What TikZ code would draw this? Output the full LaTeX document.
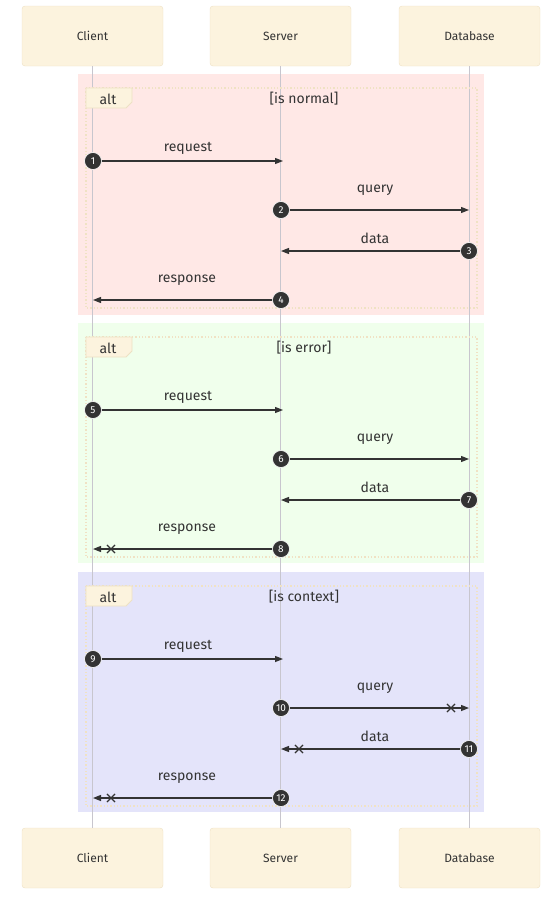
\documentclass[tikz,border=0pt]{standalone}
\usepackage{fontspec}
\setmainfont{Fira Sans}
\usepackage{xcolor}
\usetikzlibrary{shapes, shapes.misc, arrows.meta, positioning}

\definecolor{actfill}{RGB}{252,243,222}
\definecolor{actdraw}{RGB}{237,225,196}
\definecolor{lifegray}{RGB}{200,198,206}
\definecolor{inkdark}{RGB}{51,51,51}
\definecolor{pinkbg}{RGB}{255,232,230}
\definecolor{greenbg}{RGB}{240,255,236}
\definecolor{bluebg}{RGB}{228,228,250}
\definecolor{framedot}{RGB}{240,226,196}

\tikzset{
    actor/.style={draw=actdraw, fill=actfill, rounded corners=3pt, minimum width=141pt, minimum height=60pt, text=inkdark, font=\fontsize{12}{14}\selectfont},
    lifeline/.style={draw=lifegray, line width=1.6pt},
    altframe/.style={draw=framedot, line width=1.3pt, dotted},
    alttag/.style={draw=actdraw, fill=actfill, line width=0.8pt},
    cond/.style={text=inkdark, font=\fontsize{14}{16}\selectfont},
    msg/.style={draw=inkdark, line width=1.3pt, -{Triangle[length=8pt, width=6pt]}},
    lbl/.style={text=inkdark, font=\fontsize{14}{16}\selectfont, inner sep=0pt},
    num/.style={circle, fill=inkdark, draw=white, line width=0.6pt, minimum size=17pt, inner sep=0pt, text=white, font=\fontsize{10}{10}\selectfont},
    xmark/.style={cross out, draw=inkdark, line width=1.1pt, minimum size=7pt, inner sep=0pt},
}

\begin{document}
\begin{tikzpicture}[x=1pt, y=-1pt]
    \useasboundingbox (0,0) rectangle (559,905);

    % background blocks
    \fill[pinkbg] (78,74) rectangle (484,315);
    \fill[greenbg] (78,323) rectangle (484,563);
    \fill[bluebg] (78,572) rectangle (484,812);

    % actors
    \node[actor] (client) at (92.5,36) {Client};
    \node[actor] (server) at (280.5,36) {Server};
    \node[actor] (db) at (469.5,36) {Database};
    \node[actor] (clientb) at (92.5,858) {Client};
    \node[actor] (serverb) at (280.5,858) {Server};
    \node[actor] (dbb) at (469.5,858) {Database};

    % lifelines
    \draw[lifeline] (client) -- (clientb);
    \draw[lifeline] (server) -- (serverb);
    \draw[lifeline] (db) -- (dbb);

    % alt frames
    \draw[altframe] (86,88) rectangle (477,308);
    \draw[alttag] (86,88) -- (132,88) -- (132,102) -- (126,108) -- (86,108) -- cycle;
    \node[lbl] (alt1) at (108,99) {alt};
    \node[cond] (cond1) at (304,99) {[is normal]};

    \draw[altframe] (86,337) rectangle (477,557);
    \draw[alttag] (86,337) -- (132,337) -- (132,351) -- (126,357) -- (86,357) -- cycle;
    \node[lbl] (alt2) at (108,348) {alt};
    \node[cond] (cond2) at (304,348) {[is error]};

    \draw[altframe] (86,586) rectangle (477,806);
    \draw[alttag] (86,586) -- (132,586) -- (132,600) -- (126,606) -- (86,606) -- cycle;
    \node[lbl] (alt3) at (108,597) {alt};
    \node[cond] (cond3) at (304,597) {[is context]};

    % is normal
    \coordinate (s1) at (283,161);
    \coordinate (d2) at (469,210);
    \coordinate (s3) at (281,251);
    \coordinate (c4) at (93,300);
    \draw[msg] (93,161) coordinate (c1) -- node[lbl, midway, yshift=13pt] {request} (s1);
    \draw[msg] (281,210) coordinate (s2) -- node[lbl, midway, yshift=20pt] {query} (d2);
    \draw[msg] (469,251) coordinate (d3) -- node[lbl, midway, yshift=13pt] {data} (s3);
    \draw[msg] (281,300) coordinate (s4) -- node[lbl, midway, yshift=20pt] {response} (c4);
    \node[num] (n1) at (c1) {1};
    \node[num] (n2) at (s2) {2};
    \node[num] (n3) at (d3) {3};
    \node[num] (n4) at (s4) {4};

    % is error
    \coordinate (s5) at (283,410);
    \coordinate (d6) at (469,459);
    \coordinate (s7) at (281,500);
    \coordinate (c8) at (93,549);
    \draw[msg] (93,410) coordinate (c5) -- node[lbl, midway, yshift=13pt] {request} (s5);
    \draw[msg] (281,459) coordinate (s6) -- node[lbl, midway, yshift=20pt] {query} (d6);
    \draw[msg] (469,500) coordinate (d7) -- node[lbl, midway, yshift=13pt] {data} (s7);
    \draw[msg] (281,549) coordinate (s8) -- node[lbl, midway, yshift=20pt] {response} (c8);
    \node[xmark] (x8) at (111,549) {};
    \node[num] (n5) at (c5) {5};
    \node[num] (n6) at (s6) {6};
    \node[num] (n7) at (d7) {7};
    \node[num] (n8) at (s8) {8};

    % is context
    \coordinate (s9) at (283,659);
    \coordinate (d10) at (469,708);
    \coordinate (s11) at (281,749);
    \coordinate (c12) at (93,798);
    \draw[msg] (93,659) coordinate (c9) -- node[lbl, midway, yshift=13pt] {request} (s9);
    \draw[msg] (281,708) coordinate (s10) -- node[lbl, midway, yshift=20pt] {query} (d10);
    \draw[msg] (469,749) coordinate (d11) -- node[lbl, midway, yshift=13pt] {data} (s11);
    \draw[msg] (281,798) coordinate (s12) -- node[lbl, midway, yshift=20pt] {response} (c12);
    \node[xmark] (x10) at (451,708) {};
    \node[xmark] (x11) at (299,749) {};
    \node[xmark] (x12) at (111,798) {};
    \node[num] (n9) at (c9) {9};
    \node[num] (n10) at (s10) {10};
    \node[num] (n11) at (d11) {11};
    \node[num] (n12) at (s12) {12};
\end{tikzpicture}
\end{document}
